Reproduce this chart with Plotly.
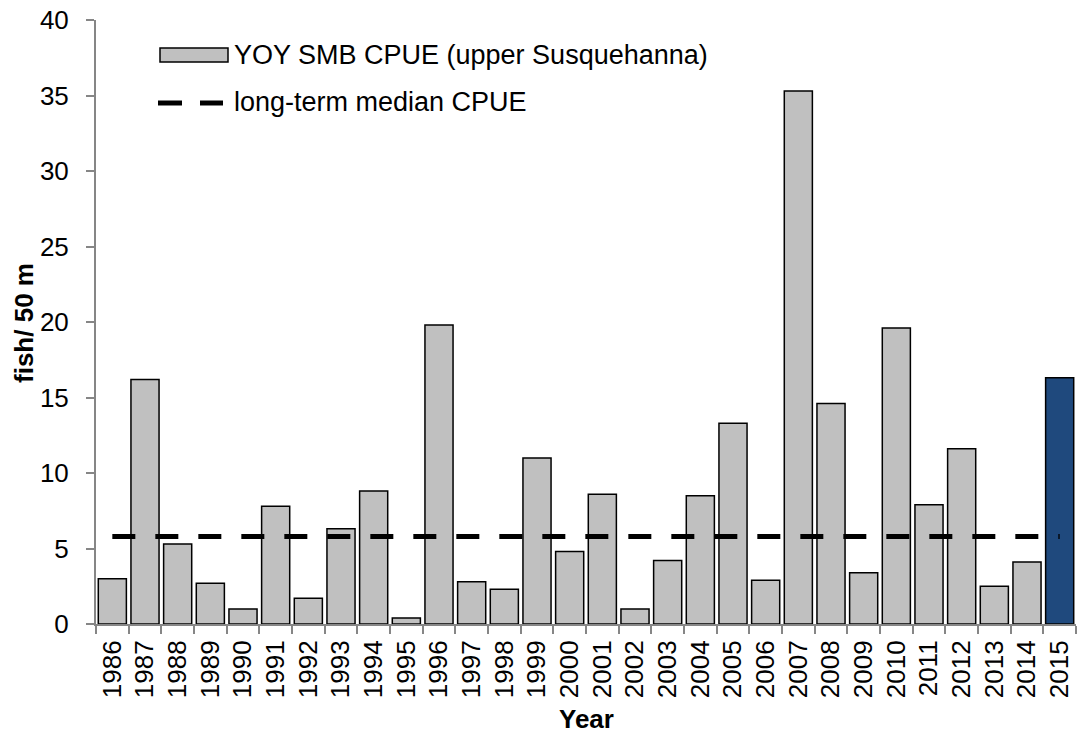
import plotly.graph_objects as go

years = [str(y) for y in range(1986, 2016)]
cpue = [3.0, 16.2, 5.3, 2.7, 1.0, 7.8, 1.7, 6.3, 8.8, 0.4,
        19.8, 2.8, 2.3, 11.0, 4.8, 8.6, 1.0, 4.2, 8.5, 13.3,
        2.9, 35.3, 14.6, 3.4, 19.6, 7.9, 11.6, 2.5, 4.1, 16.3]
median_cpue = 5.8
bar_name = "YOY SMB CPUE (upper Susquehanna)"
line_name = "long-term median CPUE"
x_title = "Year"
y_title = "fish/ 50 m"
y_ticks = [0, 5, 10, 15, 20, 25, 30, 35, 40]

GREY = "#C0C0C0"
BLUE = "#1F497D"
colors = [GREY] * (len(years) - 1) + [BLUE]

fig = go.Figure()
fig.add_trace(go.Bar(
    x=years, y=cpue, name=bar_name,
    marker=dict(color=colors, line=dict(color="black", width=1.5)),
    width=0.86, showlegend=False,
))
fig.add_trace(go.Scatter(
    x=years, y=[median_cpue] * len(years), name=line_name, mode="lines",
    line=dict(color="black", width=5, dash="23px,20px"),
    showlegend=False,
))

FONT = "Liberation Sans, Arial, sans-serif"
FS = 26
LFS = 27

# helper: pixel -> paper coords (plot area x 96..1076, y 20..624)
def px_x(px):
    return (px - 96) / 980.0

def px_y(py):
    return (624 - py) / 604.0

# manual legend
fig.add_shape(type="rect", xref="paper", yref="paper",
              x0=px_x(160), x1=px_x(228), y0=px_y(62), y1=px_y(48),
              fillcolor=GREY, line=dict(color="black", width=1.5))
fig.add_annotation(xref="paper", yref="paper", x=px_x(232), y=px_y(55),
                   text=bar_name, showarrow=False, xanchor="left", yanchor="middle",
                   font=dict(family=FONT, size=LFS, color="black"))
for a, b in [(158, 182), (200, 223)]:
    fig.add_shape(type="line", xref="paper", yref="paper",
                  x0=px_x(a), x1=px_x(b), y0=px_y(103), y1=px_y(103),
                  line=dict(color="black", width=5))
fig.add_annotation(xref="paper", yref="paper", x=px_x(232), y=px_y(102),
                   text=line_name, showarrow=False, xanchor="left", yanchor="middle",
                   font=dict(family=FONT, size=LFS, color="black"))

# axis titles
fig.add_annotation(xref="paper", yref="paper", x=px_x(586), y=px_y(719),
                   text="<b>" + x_title + "</b>", showarrow=False,
                   xanchor="center", yanchor="middle",
                   font=dict(family=FONT, size=FS, color="black"))
fig.add_annotation(xref="paper", yref="paper", x=px_x(24), y=px_y(323),
                   text="<b>" + y_title + "</b>", showarrow=False, textangle=-90,
                   xanchor="center", yanchor="middle",
                   font=dict(family=FONT, size=FS, color="black"))

fig.update_layout(
    width=1080, height=734,
    margin=dict(l=96, r=4, t=20, b=110),
    plot_bgcolor="white", paper_bgcolor="white",
    font=dict(family=FONT, size=FS, color="black"),
    bargap=0.14,
)
fig.update_xaxes(
    type="category", tickangle=-90,
    showline=True, linecolor="#868686", linewidth=2,
    ticks="outside", tickson="boundaries", ticklen=8, tickcolor="#868686", tickwidth=2,
    showgrid=False, tickfont=dict(size=FS), automargin=False,
    ticklabelstandoff=4,
)
fig.update_yaxes(
    range=[0, 40], tickvals=y_ticks,
    showline=True, linecolor="#868686", linewidth=2,
    ticks="outside", ticklen=8, tickcolor="#868686", tickwidth=2,
    showgrid=False, zeroline=False, tickfont=dict(size=FS), automargin=False,
    ticklabelstandoff=12,
)

fig.write_html("out.html", config={"displayModeBar": False},
               post_script="document.body.style.margin='0';")
